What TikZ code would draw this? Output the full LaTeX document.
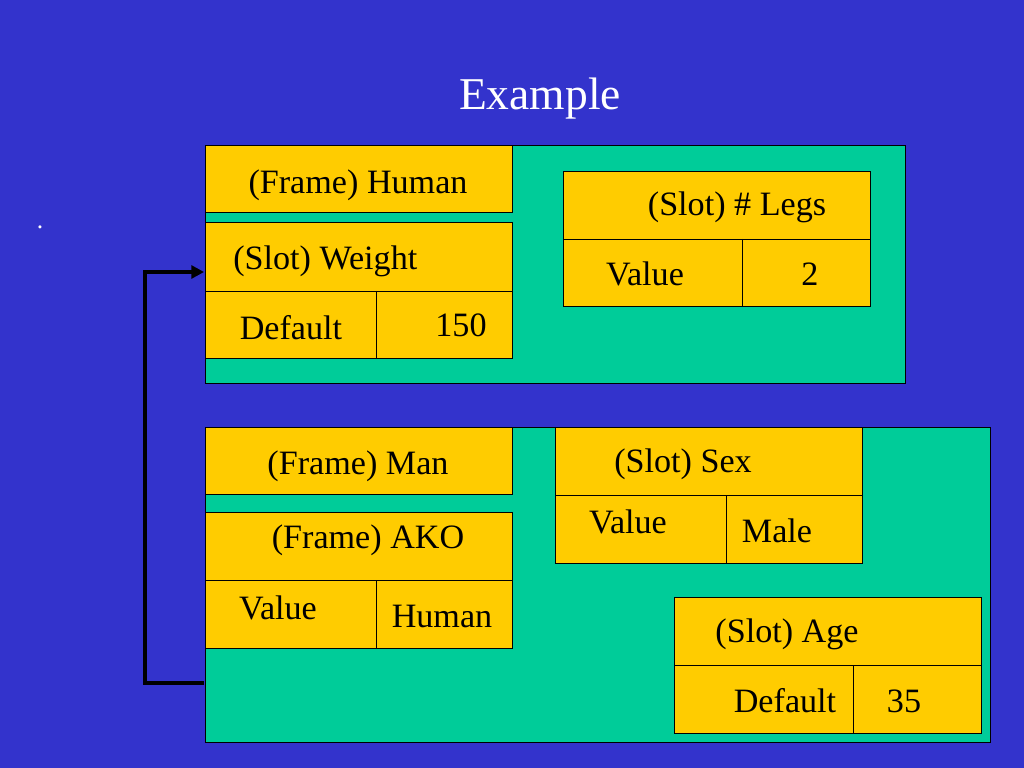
\documentclass[tikz,border=0pt]{standalone}
\usepackage{fontspec}
\setmainfont{Liberation Serif}
\usetikzlibrary{arrows.meta}
\definecolor{bgblue}{HTML}{3333CC}
\definecolor{teal}{HTML}{00CC99}
\definecolor{gold}{HTML}{FFCC00}
\tikzset{
  frame/.style={draw=black, line width=0.6pt, fill=teal},
  cell/.style={draw=black, line width=0.6pt, fill=gold},
  txt/.style={font=\fontsize{24}{28}\selectfont, text=black, inner sep=0pt, yshift=-2.2pt},
  ttl/.style={font=\fontsize{32}{38}\selectfont, text=white, inner sep=0pt},
  link/.style={line width=2.7pt, black, -{Triangle[length=9pt,width=9pt]}},
}
\begin{document}
\begin{tikzpicture}[x=0.703125pt, y=-0.703125pt]
\fill[bgblue] (0,0) rectangle (1024,768);
\useasboundingbox (0,0) rectangle (1024,768);

\node[ttl] (title) at (540,99) {Example};
\node[text=white, font=\fontsize{18}{20}\selectfont, inner sep=0pt] (dot) at (40,227) {.};

% top frame
\draw[frame] (205,145) rectangle (905,383);
\node (topframe) at (555,264) [minimum width=492pt, minimum height=167pt, inner sep=0pt] {};
\draw[cell] (205,145) rectangle (512,212);
\node[txt] (human) at (358,182) {(Frame) Human};
\draw[cell] (205,222) rectangle (512,358);
\draw[line width=0.6pt] (205,291) -- (512,291) (376,291) -- (376,358);
\node (weight) at (358,256) [minimum width=216pt, minimum height=48pt, inner sep=0pt] {};
\node[txt, anchor=west] (weightlbl) at (233,258) {(Slot) Weight};
\node[txt] (wdef) at (291,325) {Default};
\node[txt] (w150) at (461,322) {150};

\draw[cell] (563,171) rectangle (870,306);
\draw[line width=0.6pt] (563,239) -- (870,239) (742,239) -- (742,306);
\node[txt] (legs) at (737,204) {(Slot) \# Legs};
\node[txt] (lval) at (645,271) {Value};
\node[txt] (l2) at (810,271) {2};

% bottom frame
\draw[frame] (205,427) rectangle (990,742);
\node (botframe) at (597,584) [minimum width=552pt, minimum height=221pt, inner sep=0pt] {};
\draw[cell] (205,427) rectangle (512,494);
\node[txt] (man) at (358,463) {(Frame) Man};
\draw[cell] (205,512) rectangle (512,648);
\draw[line width=0.6pt] (205,580) -- (512,580) (376,580) -- (376,648);
\node[txt] (ako) at (368,537) {(Frame) AKO};
\node[txt] (aval) at (278,605) {Value};
\node[txt] (ahum) at (442,613) {Human};

\draw[cell] (555,427) rectangle (862,563);
\draw[line width=0.6pt] (555,495) -- (862,495) (726,495) -- (726,563);
\node[txt] (sex) at (683,461) {(Slot) Sex};
\node[txt] (sval) at (628,519) {Value};
\node[txt] (smale) at (777,528) {Male};

\draw[cell] (674,597) rectangle (981,733);
\draw[line width=0.6pt] (674,665) -- (981,665) (853,665) -- (853,733);
\node[txt] (age) at (787,631) {(Slot) Age};
\node[txt] (adef) at (785,698) {Default};
\node[txt] (a35) at (904,698) {35};

% AKO link
\coordinate (elbow) at (145,683);
\draw[link] (botframe.west |- elbow) -- (elbow) |- (weight.west |- {(0,272)});
\end{tikzpicture}
\end{document}
